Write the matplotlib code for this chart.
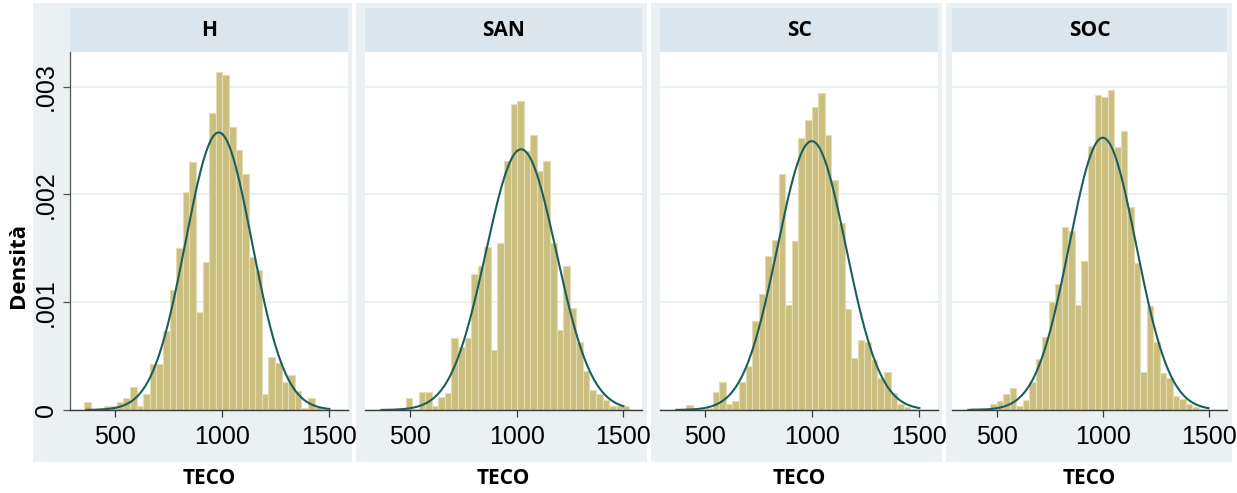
import numpy as np
import matplotlib.pyplot as plt
from matplotlib.patches import Rectangle

# Panels (groups) and histogram of TECO by group
groups = ['H', 'SAN', 'SC', 'SOC']
bin_start = [353, 478, 411, 376]
bin_width = 30.8

dens_h = [0.00007, 0.0, 0.000015, 0.00004, 0.00004, 0.00007, 0.00011, 0.00021,
          0.00004, 0.00015, 0.00043, 0.00043, 0.00073, 0.00111, 0.00150, 0.00202,
          0.00230, 0.00091, 0.00137, 0.00275, 0.00313, 0.00311, 0.00262, 0.00241,
          0.00219, 0.00142, 0.00130, 0.00015, 0.00049, 0.00044, 0.00026, 0.00032,
          0.00018, 0.00002, 0.00011, 0.00003, 0.00001]
dens_san = [0.00011, 0.00001, 0.00017, 0.00017, 0.00004, 0.00012, 0.00016, 0.00067,
            0.00058, 0.00067, 0.00126, 0.00134, 0.00151, 0.00056, 0.00155, 0.00231,
            0.00284, 0.00287, 0.00240, 0.00255, 0.00222, 0.00231, 0.00155, 0.00074,
            0.00134, 0.00095, 0.00063, 0.00036, 0.00019, 0.00015, 0.00009, 0.00004,
            0.00004, 0.00004]
dens_sc = [0.00005, 0.00001, 0.00001, 0.00002, 0.00017, 0.00026, 0.00006, 0.00008,
           0.00026, 0.00041, 0.00083, 0.00108, 0.00143, 0.00158, 0.00219, 0.00097,
           0.00157, 0.00252, 0.00269, 0.00281, 0.00294, 0.00255, 0.00213, 0.00173,
           0.00094, 0.00048, 0.00065, 0.00063, 0.00046, 0.00030, 0.00035, 0.00016,
           0.00006, 0.00003, 0.00001]
dens_soc = [0.00002, 0.00002, 0.00001, 0.00006, 0.00008, 0.00015, 0.00020, 0.00004,
            0.00009, 0.00026, 0.00047, 0.00068, 0.00100, 0.00117, 0.00170, 0.00166,
            0.00097, 0.00138, 0.00245, 0.00292, 0.00290, 0.00297, 0.00244, 0.00259,
            0.00188, 0.00136, 0.00035, 0.00096, 0.00063, 0.00034, 0.00030, 0.00013,
            0.00010, 0.00006, 0.00003, 0.00001]
densities = [dens_h, dens_san, dens_sc, dens_soc]

# normal curve parameters
norm_mean = [983, 1020, 997, 1000]
norm_sd = [155, 165, 160, 158]

xticks = [500, 1000, 1500]
yticks = [0, 0.001, 0.002, 0.003]
yticklabels = ['0', '.001', '.002', '.003']

W, H = 1237, 493
fig = plt.figure(figsize=(W / 100, H / 100), dpi=100)
fig.patch.set_facecolor('white')


def fbox(x0, y0, x1, y1):
    return [x0 / W, 1 - y1 / H, (x1 - x0) / W, (y1 - y0) / H]


tick_font = ['Liberation Sans Narrow', 'Liberation Sans', 'DejaVu Sans']
lab_font = ['Open Sans', 'DejaVu Sans']

plot_x = [(70, 348), (365, 642), (660, 938), (952, 1227)]
bg_x = [(33, 352), (356, 647), (651, 942), (946, 1232)]
top, strip_bot, bottom = 8, 52, 410

for i, g in enumerate(groups):
    bx0, bx1 = bg_x[i]
    fig.patches.append(Rectangle((bx0 / W, 1 - 462 / H), (bx1 - bx0) / W, 459 / H,
                                 transform=fig.transFigure, facecolor='#ebf1f3',
                                 edgecolor='none', zorder=0))
    x0, x1 = plot_x[i]
    fig.patches.append(Rectangle((x0 / W, 1 - strip_bot / H), (x1 - x0) / W,
                                 (strip_bot - top) / H, transform=fig.transFigure,
                                 facecolor='#dbe5ee', edgecolor='none', zorder=1))
    fig.text((x0 + x1) / 2 / W, 1 - 30 / H, g, ha='center', va='center',
             fontsize=15, fontweight='bold', family=lab_font, zorder=6)

    ax = fig.add_axes(fbox(x0, strip_bot, x1, bottom))
    ax.set_zorder(5)
    ax.set_facecolor('white')
    dens = densities[i]
    edges = bin_start[i] + bin_width * np.arange(len(dens))
    ax.bar(edges, dens, width=bin_width, align='edge', color='#cbbf80',
           edgecolor='#e3dcb3', linewidth=0.8, zorder=2)

    xs = np.linspace(365, 1500, 400)
    ys = np.exp(-0.5 * ((xs - norm_mean[i]) / norm_sd[i]) ** 2) / (norm_sd[i] * np.sqrt(2 * np.pi))
    ax.plot(xs, ys, color='#1b5e5c', linewidth=1.5, zorder=3)

    ax.set_xlim(288, 1587)
    ax.set_ylim(0, 0.00332)
    ax.set_yticks(yticks)
    ax.grid(axis='y', color='#e6eded', linewidth=1.2, zorder=0)
    ax.set_axisbelow(True)
    for s in ['top', 'right']:
        ax.spines[s].set_visible(False)
    ax.spines['bottom'].set_color('#3a3a3a')
    ax.spines['bottom'].set_linewidth(1.0)
    ax.set_xticks(xticks)
    ax.set_xticklabels([str(t) for t in xticks], family=tick_font, fontsize=18)
    ax.tick_params(axis='x', direction='out', length=5, width=0.9, color='#3a3a3a',
                   pad=6)
    if i == 0:
        ax.spines['left'].set_color('#555555')
        ax.spines['left'].set_linewidth(0.9)
        ax.set_yticklabels(yticklabels, family=tick_font, fontsize=18, rotation=90,
                           va='center')
        ax.tick_params(axis='y', direction='out', length=5, width=0.9,
                       color='#555555', pad=4)
    else:
        ax.spines['left'].set_visible(False)
        ax.tick_params(axis='y', length=0, labelleft=False)

    fig.text((x0 + x1) / 2 / W, 1 - 478 / H, 'TECO', ha='center', va='center',
             fontsize=15, fontweight='bold', family=lab_font)

fig.text(18 / W, 1 - 266 / H, 'Densità', ha='center', va='center', rotation=90,
         fontsize=16, fontweight='bold', family=lab_font)

fig.savefig('out.png', dpi=100)
